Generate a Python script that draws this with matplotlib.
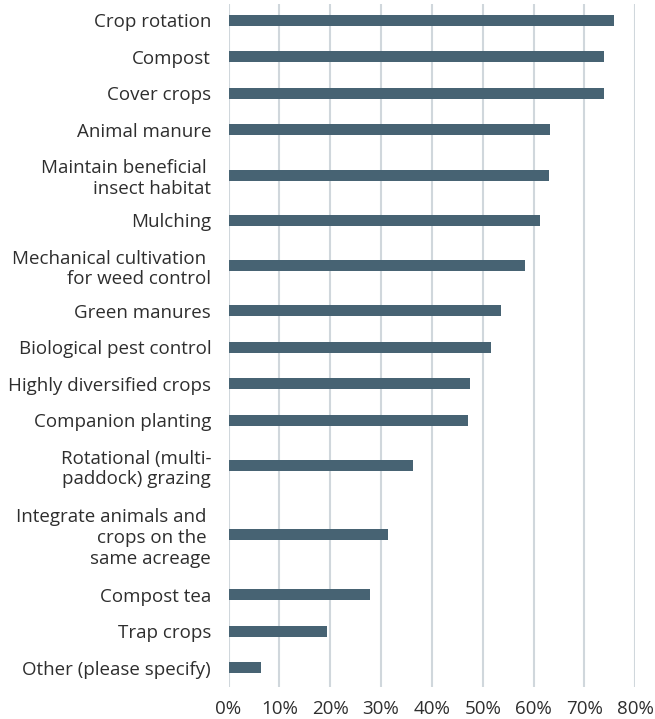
import matplotlib
matplotlib.use("Agg")
import matplotlib.pyplot as plt
import numpy as np

categories = [
    "Crop rotation",
    "Compost",
    "Cover crops",
    "Animal manure",
    "Maintain beneficial \ninsect habitat",
    "Mulching",
    "Mechanical cultivation \nfor weed control",
    "Green manures",
    "Biological pest control",
    "Highly diversified crops",
    "Companion planting",
    "Rotational (multi-\npaddock) grazing",
    "Integrate animals and \ncrops on the \nsame acreage",
    "Compost tea",
    "Trap crops",
    "Other (please specify)",
]
values = [0.759, 0.738, 0.738, 0.632, 0.630, 0.612, 0.584, 0.535, 0.516,
          0.474, 0.471, 0.362, 0.313, 0.278, 0.194, 0.064]
xticks = [0.0, 0.1, 0.2, 0.3, 0.4, 0.5, 0.6, 0.7, 0.8]
xticklabels = ["0%", "10%", "20%", "30%", "40%", "50%", "60%", "70%", "80%"]

plt.rcParams['font.family'] = ['Open Sans', 'DejaVu Sans']

# row layout derived from the number of label lines
nlines = np.array([c.count("\n") + 1 for c in categories])
row_height_by_lines = {1: 36.5, 2: 54.0, 3: 84.0}
row_h = np.array([row_height_by_lines[n] for n in nlines])
ypos = np.cumsum(row_h) - row_h / 2.0

fig = plt.figure(figsize=(6.55, 7.19), dpi=100)
ax = fig.add_axes([228.5 / 655, 32 / 719, (635.3 - 228.5) / 655, 683 / 719])

ax.barh(ypos, values, height=11, color="#476373", zorder=3)
ax.set_xlim(0, 0.8)
ax.set_ylim(row_h.sum() + 0.95, 1.95)
ax.set_xticks(xticks)
ax.set_xticklabels(xticklabels)
ax.set_yticks(ypos)
ax.set_yticklabels(categories, ha="right", multialignment="right")
ax.xaxis.grid(True, color="#d0d7dc", linewidth=1.5, zorder=0)
ax.set_axisbelow(True)
for s in ax.spines.values():
    s.set_visible(False)
ax.tick_params(axis="both", length=0, labelsize=13.5, colors="#2e2e2e")
ax.tick_params(axis="y", pad=12.5)
ax.tick_params(axis="x", pad=9)
for t in ax.get_yticklabels():
    t.set_linespacing(1.2)

fig.savefig("out.png", dpi=100)
